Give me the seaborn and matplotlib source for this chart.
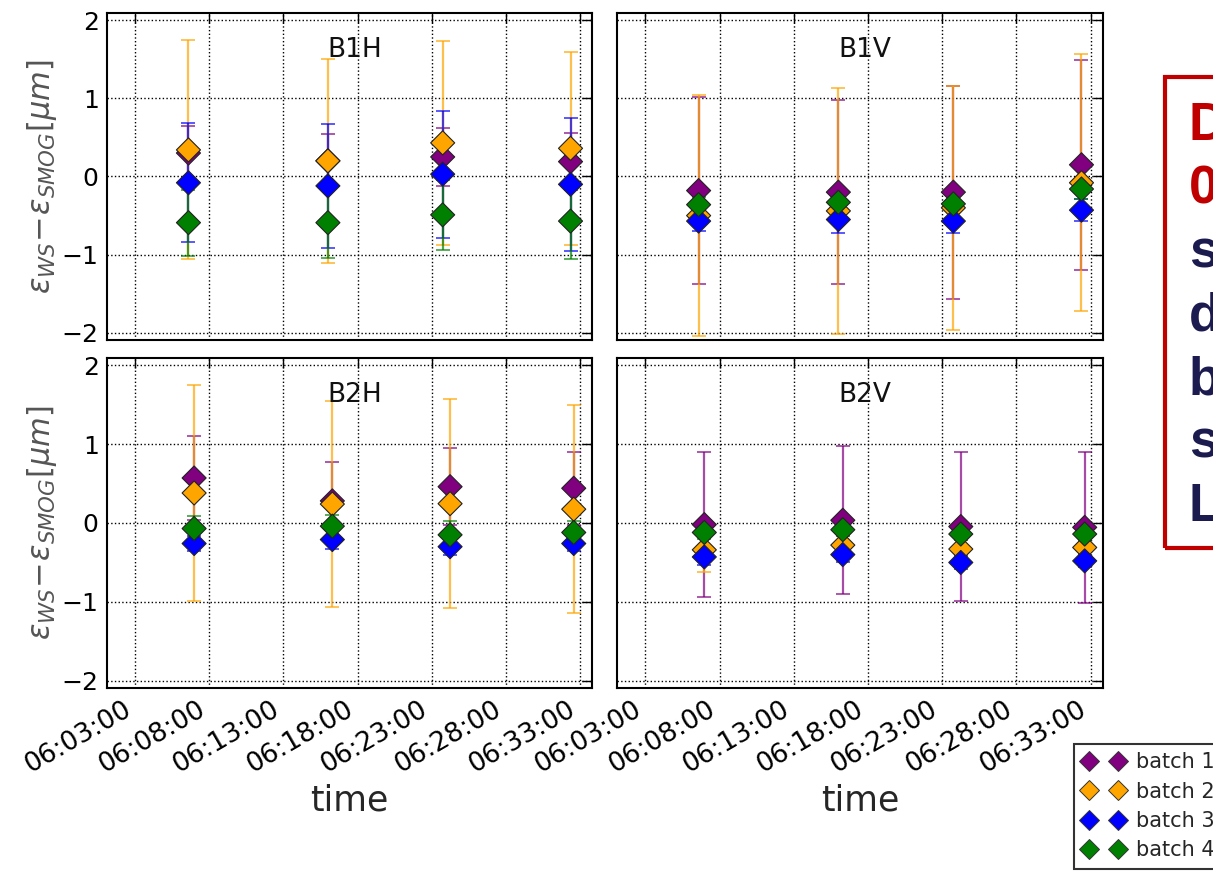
import numpy as np
import pandas as pd
import seaborn as sns
import matplotlib.pyplot as plt
import matplotlib.dates as mdates
from matplotlib.lines import Line2D
from matplotlib.patches import Rectangle

batches = ['batch 1', 'batch 2', 'batch 3', 'batch 4']
colors = ['purple', 'orange', 'blue', 'green']
panels = ['B1H', 'B1V', 'B2H', 'B2V']

times_b1 = ['06:06:35', '06:16:00', '06:23:45', '06:32:23']
times_b2 = ['06:06:58', '06:16:18', '06:24:15', '06:32:36']
tick_times = ['06:03:00', '06:08:00', '06:13:00', '06:18:00', '06:23:00', '06:28:00', '06:33:00']

# rows: batch 1..4, columns: the four measurements
b1h_mean = [[0.30, 0.20, 0.25, 0.19],
            [0.34, 0.20, 0.43, 0.36],
            [-0.08, -0.12, 0.03, -0.10],
            [-0.59, -0.59, -0.49, -0.57]]
b1h_err = [[0.35, 0.34, 0.37, 0.36],
           [1.40, 1.30, 1.30, 1.23],
           [0.76, 0.79, 0.81, 0.85],
           [0.42, 0.45, 0.45, 0.48]]

b1v_mean = [[-0.18, -0.20, -0.20, 0.15],
            [-0.50, -0.44, -0.40, -0.08],
            [-0.57, -0.55, -0.57, -0.43],
            [-0.36, -0.33, -0.35, -0.16]]
b1v_err = [[1.20, 1.18, 1.36, 1.34],
           [1.54, 1.57, 1.56, 1.64],
           [0.13, 0.17, 0.15, 0.14],
           [0.10, 0.10, 0.10, 0.13]]

b2h_mean = [[0.57, 0.28, 0.46, 0.44],
            [0.38, 0.24, 0.245, 0.175],
            [-0.26, -0.21, -0.30, -0.26],
            [-0.07, -0.04, -0.15, -0.12]]
b2h_err = [[0.53, 0.49, 0.49, 0.46],
           [1.37, 1.30, 1.325, 1.315],
           [0.10, 0.12, 0.11, 0.10],
           [0.16, 0.14, 0.17, 0.15]]

b2v_mean = [[-0.02, 0.035, -0.045, -0.055],
            [-0.34, -0.28, -0.33, -0.31],
            [-0.43, -0.40, -0.50, -0.48],
            [-0.12, -0.085, -0.14, -0.14]]
b2v_err = [[0.92, 0.935, 0.945, 0.955],
           [0.28, 0.12, 0.12, 0.12],
           [0.10, 0.10, 0.08, 0.08],
           [0.08, 0.08, 0.08, 0.08]]

day = '2016-05-01 '
panel_data = {'B1H': (times_b1, b1h_mean, b1h_err),
              'B1V': (times_b1, b1v_mean, b1v_err),
              'B2H': (times_b2, b2h_mean, b2h_err),
              'B2V': (times_b2, b2v_mean, b2v_err)}

sns.set_style('white')
plt.rcParams['font.family'] = ['DejaVu Sans']

fig = plt.figure(figsize=(12.13, 8.71), dpi=100)
W, H = 1213.0, 871.0
boxes = {'B1H': [107 / W, 1 - 340 / H, 485 / W, 327 / H],
         'B1V': [617 / W, 1 - 340 / H, 486 / W, 327 / H],
         'B2H': [107 / W, 1 - 688 / H, 485 / W, 330 / H],
         'B2V': [617 / W, 1 - 688 / H, 486 / W, 330 / H]}

for name in panels:
    times, means, errs = panel_data[name]
    rows = []
    for i, b in enumerate(batches):
        for j, t in enumerate(times):
            rows.append({'time': pd.Timestamp(day + t), 'value': means[i][j],
                         'err': errs[i][j], 'batch': b})
    df = pd.DataFrame(rows)

    ax = fig.add_axes(boxes[name])
    for i, b in enumerate(batches):
        sub = df[df.batch == b]
        ax.errorbar(sub.time, sub.value, yerr=sub.err, fmt='none', ecolor=colors[i],
                    alpha=0.7, elinewidth=1.6, capsize=5, capthick=1.3, zorder=2)
    sns.scatterplot(data=df, x='time', y='value', hue='batch', palette=colors,
                    marker='D', s=150, edgecolor='#222222', linewidth=0.8,
                    legend=False, ax=ax, zorder=3)

    ax.set_xlim(pd.Timestamp(day + '06:01:05'), pd.Timestamp(day + '06:33:50'))
    ax.set_ylim(-2.09, 2.09)
    ax.set_yticks([-2, -1, 0, 1, 2])
    ax.set_xticks([pd.Timestamp(day + t) for t in tick_times])
    ax.xaxis.set_major_formatter(mdates.DateFormatter('%H:%M:%S'))
    ax.grid(True, linestyle=':', color='black', linewidth=1)
    ax.tick_params(direction='in', top=True, right=True, length=7, width=1,
                   labelsize=18, colors='black', pad=6)
    for sp in ax.spines.values():
        sp.set_color('black')
        sp.set_linewidth(1.5)
    ax.text(0.51, 0.887, name, transform=ax.transAxes, ha='center', va='center',
            fontsize=19, color='#111111')

    if name in ('B1H', 'B1V'):
        ax.tick_params(labelbottom=False)
        ax.set_xlabel('')
    else:
        for lab in ax.get_xticklabels():
            lab.set_rotation(30)
            lab.set_ha('right')
            lab.set_rotation_mode('default')
            lab.set_fontsize(19)
        ax.set_xlabel('time', fontsize=25, labelpad=4)
    if name in ('B1H', 'B2H'):
        ax.set_ylabel(r'$\varepsilon_{WS}\!-\!\varepsilon_{SMOG}[\mu m]$',
                      fontsize=22, color='#555555', labelpad=2)
    else:
        ax.tick_params(labelleft=False)
        ax.set_ylabel('')

handles = [Line2D([], [], linestyle='none', marker='D', markersize=10,
                  markerfacecolor=c, markeredgecolor='#333333', markeredgewidth=0.7)
           for c in colors]
leg = fig.legend(handles, batches, loc='upper left', numpoints=2,
                 bbox_to_anchor=(1074 / W, 1 - 744 / H), borderaxespad=0,
                 fontsize=15, fancybox=False, frameon=True, edgecolor='black',
                 handlelength=2.0, handletextpad=0.6, borderpad=0.4, labelspacing=0.45)
leg.get_frame().set_linewidth(1.5)

fig.add_artist(Rectangle((1165 / W, 1 - 548 / H), 0.1, 471 / H, transform=fig.transFigure,
                         fill=False, edgecolor='#C00000', linewidth=3))
letters = ['D', '0', 's', 'd', 'b', 's', 'L']
letter_colors = ['#C00000', '#C00000', '#1B1B4F', '#1B1B4F', '#1B1B4F', '#1B1B4F', '#1B1B4F']
for k, (ch, c) in enumerate(zip(letters, letter_colors)):
    fig.text(1189 / W, 1 - (140 + 63.5 * k) / H, ch, fontsize=38, fontweight='bold',
             family=['Liberation Sans', 'DejaVu Sans'], color=c, va='baseline', ha='left')

fig.savefig('out.png', dpi=100)
